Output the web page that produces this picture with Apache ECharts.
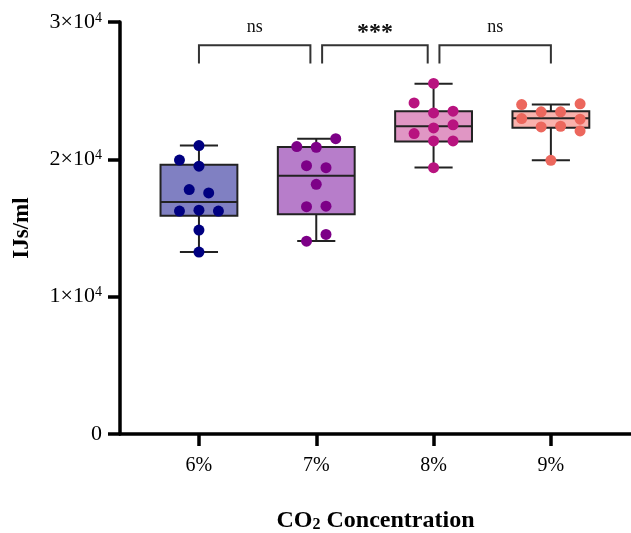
<!DOCTYPE html>
<html>
<head>
<meta charset="utf-8">
<script src="https://cdn.jsdelivr.net/npm/echarts@6/dist/echarts.min.js"></script>
<style>
html,body{margin:0;padding:0;background:#fff;}
#chart{width:631px;height:533px;}
</style>
</head>
<body>
<div id="chart"></div>
<script>
// 分组
var groups = ['6%', '7%', '8%', '9%'];
// 箱线 [min, Q1, median, Q3, max]
var boxStats = [
    [13250, 15900, 16900, 19600, 21000],
    [14050, 16000, 18800, 20900, 21500],
    [19400, 21300, 22400, 23500, 25500],
    [19930, 22300, 23000, 23500, 24000]
];
// 各点数值
var pts6 = [21000, 19950, 19500, 17800, 17550, 16230, 16300, 16230, 14850, 13250];
var pts7 = [21500, 20930, 20880, 19540, 19390, 18180, 16550, 16590, 14530, 14040];
var pts8 = [25530, 24110, 23380, 23510, 22510, 22290, 21880, 21340, 21340, 19390];
var pts9 = [23990, 24040, 23460, 23460, 22970, 22920, 22360, 22410, 22070, 19930];
// 点的横向错位列
var col6 = [0, -2, 0, -1, 1, -2, 0, 2, 0, 0];
var col7 = [2, -2, 0, -1, 1, 0, -1, 1, 1, -1];
var col8 = [0, -2, 0, 2, 2, 0, -2, 0, 2, 0];
var col9 = [-3, 3, -1, 1, -3, 3, -1, 1, 3, 0];
// 显著性
var sigPairs = [[1, 1.95], [2.05, 2.95], [3.05, 4]];
var sigText = ['ns', '***', 'ns'];

var fillColors = ['#8080c2', '#b77dca', '#e096c4', '#f9b2ad'];
var dotColors = ['#000080', '#7d0087', '#b8137f', '#ec675d'];
var colStep = 0.083;
var serif = 'Liberation Serif';

var allPts = [pts6, pts7, pts8, pts9];
var allCols = [col6, col7, col8, col9];

var boxData = boxStats.map(function (s, i) {
    return [i + 1].concat(s);
});

var chart = echarts.init(document.getElementById('chart'));

var scatterSeries = allPts.map(function (arr, g) {
    return {
        type: 'scatter',
        symbolSize: 11,
        z: 5,
        itemStyle: {color: dotColors[g], opacity: 1},
        data: arr.map(function (v, k) {
            return [g + 1 + allCols[g][k] * colStep, v];
        })
    };
});

var option = {
    backgroundColor: '#fff',
    animation: false,
    grid: {left: 120, right: 0, top: 22, bottom: 99, containLabel: false, outerBoundsMode: 'none'},
    xAxis: {
        type: 'value',
        min: 0.327,
        max: 4.683,
        name: '{a|CO}{b|2}{a| Concentration}',
        nameLocation: 'middle',
        nameGap: 74,
        nameTextStyle: {
            rich: {
                a: {fontFamily: serif, fontWeight: 'bold', fontSize: 24, color: '#000'},
                b: {fontFamily: serif, fontWeight: 'bold', fontSize: 16, color: '#000', verticalAlign: 'bottom', padding: [9, 0, 0, 0]}
            }
        },
        splitLine: {show: false},
        axisLine: {show: true, lineStyle: {color: '#000', width: 3.5}},
        axisTick: {show: true, length: 12, customValues: [1, 2, 3, 4], lineStyle: {color: '#000', width: 3.5}},
        axisLabel: {
            customValues: [1, 2, 3, 4],
            margin: 22,
            fontFamily: serif,
            fontSize: 20,
            color: '#000',
            formatter: function (v) { return groups[Math.round(v) - 1]; }
        }
    },
    yAxis: {
        type: 'value',
        min: 0,
        max: 30000,
        interval: 10000,
        name: 'IJs/ml',
        nameLocation: 'middle',
        nameGap: 86,
        nameTextStyle: {fontFamily: serif, fontWeight: 'bold', fontSize: 23, color: '#000'},
        splitLine: {show: false},
        axisLine: {show: true, lineStyle: {color: '#000', width: 3.5}},
        axisTick: {show: true, length: 12, lineStyle: {color: '#000', width: 3.5}},
        axisLabel: {
            margin: 18,
            color: '#000',
            formatter: function (v) {
                if (v === 0) return '{a|0}';
                return '{a|' + (v / 10000) + '×10}{s|4}';
            },
            rich: {
                a: {fontFamily: serif, fontSize: 22, color: '#000'},
                s: {fontFamily: serif, fontSize: 14, color: '#000', verticalAlign: 'top', padding: [0, 0, 8, 0]}
            }
        }
    },
    series: [
        {
            type: 'custom',
            z: 2,
            clip: false,
            data: boxData,
            renderItem: function (params, api) {
                var x = api.value(0);
                var bw = api.size([0.655, 0])[0];
                var cw = api.size([0.325, 0])[0];
                var pMin = api.coord([x, api.value(1)]);
                var pQ1 = api.coord([x, api.value(2)]);
                var pMed = api.coord([x, api.value(3)]);
                var pQ3 = api.coord([x, api.value(4)]);
                var pMax = api.coord([x, api.value(5)]);
                var cx = pMed[0];
                var ls = {stroke: '#222', lineWidth: 2};
                return {
                    type: 'group',
                    children: [
                        {type: 'line', shape: {x1: cx, y1: pMax[1], x2: cx, y2: pQ3[1]}, style: ls},
                        {type: 'line', shape: {x1: cx, y1: pQ1[1], x2: cx, y2: pMin[1]}, style: ls},
                        {type: 'line', shape: {x1: cx - cw / 2, y1: pMax[1], x2: cx + cw / 2, y2: pMax[1]}, style: ls},
                        {type: 'line', shape: {x1: cx - cw / 2, y1: pMin[1], x2: cx + cw / 2, y2: pMin[1]}, style: ls},
                        {type: 'rect', shape: {x: cx - bw / 2, y: pQ3[1], width: bw, height: pQ1[1] - pQ3[1]},
                            style: {fill: fillColors[params.dataIndex], stroke: '#222', lineWidth: 2}},
                        {type: 'line', shape: {x1: cx - bw / 2, y1: pMed[1], x2: cx + bw / 2, y2: pMed[1]}, style: ls}
                    ]
                };
            }
        },
        {
            type: 'custom',
            z: 3,
            clip: false,
            data: sigPairs.map(function (p, i) { return [p[0], p[1], i]; }),
            renderItem: function (params, api) {
                var a = api.coord([api.value(0), 28300]);
                var b = api.coord([api.value(1), 26980]);
                var t = api.coord([(api.value(0) + api.value(1)) / 2, 29650]);
                var txt = sigText[params.dataIndex];
                var star = txt.indexOf('*') >= 0;
                return {
                    type: 'group',
                    children: [
                        {type: 'polyline', shape: {points: [[a[0], b[1]], [a[0], a[1]], [b[0], a[1]], [b[0], b[1]]]},
                            style: {stroke: '#333', lineWidth: 2, fill: null}},
                        {type: 'text', x: t[0], y: t[1] + (star ? 6 : 0),
                            style: {text: txt, fontFamily: serif, fontSize: star ? 24 : 18, fontWeight: star ? 'bold' : 'normal',
                                fill: '#111', align: 'center', verticalAlign: 'middle'}}
                    ]
                };
            }
        }
    ].concat(scatterSeries)
};
chart.setOption(option);
</script>
</body>
</html>
